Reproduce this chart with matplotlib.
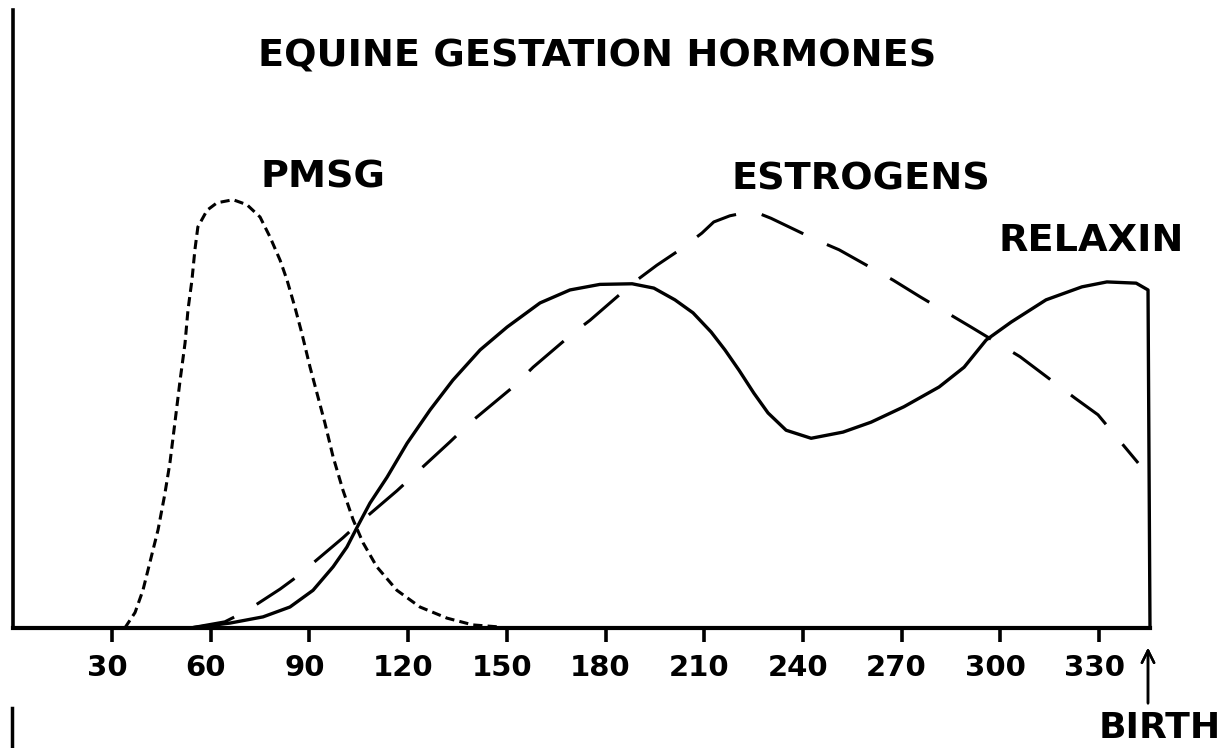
import matplotlib
matplotlib.use("Agg")
import matplotlib.pyplot as plt
import matplotlib.transforms as mtransforms
from matplotlib.lines import Line2D

# days of gestation / relative level (0-100 of the drawn axis)
pmsg_day = [33.9, 37.0, 39.4, 41.7, 44.0, 46.0, 47.6, 49.3, 50.7, 52.2, 53.1, 54.3, 55.2,
            56.1, 58.9, 61.9, 66.8, 71.0, 75.0, 78.0, 81.1, 83.2, 85.6, 87.7, 90.2, 92.3,
            94.7, 97.2, 100.2, 103.3, 106.3, 110.5, 116.6, 123.6, 131.8, 139.7, 147.0, 147.9]
pmsg_val = [0, 2.5, 6.1, 11.0, 15.9, 21.5, 26.7, 34.0, 40.1, 46.1, 51.5, 56.3, 61.2,
            64.9, 67.6, 68.8, 69.3, 68.5, 66.5, 63.3, 59.5, 56.3, 51.9, 47.7, 42.2, 38.0,
            33.2, 27.7, 22.3, 17.5, 13.8, 9.9, 6.1, 3.4, 1.6, 0.5, 0.2, 0]

estro_day = [53.7, 64.3, 71.0, 81.1, 86.2, 100.2, 104.5, 116.6, 132.7, 138.8, 151.9, 158.0,
             170.1, 175.3, 188.3, 195.6, 202.6, 209.3, 212.9, 217.8, 222.4, 227.0, 230.3,
             244.0, 251.0, 267.4, 275.6, 291.1, 306.0, 322.7, 329.7, 341.9]
estro_val = [0, 1.0, 2.8, 6.3, 8.3, 14.6, 16.7, 22.2, 30.1, 33.2, 39.0, 42.2,
             47.7, 49.8, 55.8, 58.7, 61.2, 63.9, 65.7, 66.7, 67.2, 67.0, 66.3,
             62.8, 61.2, 56.3, 53.6, 48.7, 43.9, 37.2, 34.5, 26.7]

relax_day = [53.7, 65.9, 75.9, 84.1, 91.1, 97.2, 101.4, 104.5, 108.4, 113.6, 119.7, 126.7,
             133.6, 141.9, 150.1, 160.1, 169.2, 178.3, 188.1, 194.7, 201.1, 206.6, 212.1,
             216.3, 220.6, 225.1, 229.4, 234.9, 242.5, 252.2, 260.7, 270.7, 281.4, 289.0,
             295.7, 303.3, 313.9, 324.8, 332.4, 341.3, 344.9, 345.5]
relax_val = [0, 0.8, 1.8, 3.4, 6.1, 9.9, 13.1, 16.3, 20.2, 24.4, 29.9, 35.3,
             40.1, 45.0, 48.7, 52.6, 54.7, 55.6, 55.7, 55.0, 53.1, 51.0, 47.9,
             45.0, 41.7, 38.0, 34.8, 32.0, 30.7, 31.7, 33.3, 35.8, 39.0, 42.2,
             46.6, 49.5, 53.1, 55.2, 56.0, 55.8, 54.7, 0]

ticks = [30, 60, 90, 120, 150, 180, 210, 240, 270, 300, 330]
birth_day = 345.5

W, H = 1228, 748
fig = plt.figure(figsize=(W / 100, H / 100), dpi=100)
ax = fig.add_axes([13.3 / W, (H - 628) / H, 350 * 3.29 / W, 618 / H])

ax.plot(pmsg_day, pmsg_val, color="black", lw=2.2, linestyle=(0, (3, 1.7)))
ax.plot(estro_day, estro_val, color="black", lw=2.2, linestyle=(0, (15, 8.5)))
ax.plot(relax_day, relax_val, color="black", lw=2.4, solid_joinstyle="round")

ax.set_xlim(0, 350)
ax.set_ylim(0, 100)
ax.spines["top"].set_visible(False)
ax.spines["right"].set_visible(False)
ax.spines["left"].set_linewidth(2.6)
ax.spines["bottom"].set_linewidth(3)
ax.spines["bottom"].set_bounds(0, birth_day)
ax.set_yticks([])
ax.set_xticks(ticks)
ax.set_xticklabels([str(t) for t in ticks], fontsize=21, fontweight="bold", family="DejaVu Sans")
ax.tick_params(axis="x", direction="out", length=10, width=2.6, pad=9)
shift = mtransforms.ScaledTranslation(-5 / 100, 0, fig.dpi_scale_trans)
for lab in ax.get_xticklabels():
    lab.set_transform(lab.get_transform() + shift)

def put(text, x, y, size=27.5):
    fig.text(x / W, 1 - y / H, text, fontsize=size, fontweight="bold",
             family="DejaVu Sans", ha="center", va="center")

put("EQUINE GESTATION HORMONES", 597, 57)
put("PMSG", 323, 177)
put("ESTROGENS", 861, 179)
put("RELAXIN", 1091, 241)
put("BIRTH", 1160, 728, size=26)

# arrow pointing at birth
fig.add_artist(plt.annotate("", xy=(1148 / W, 1 - 645 / H), xytext=(1148 / W, 1 - 706 / H),
                            xycoords="figure fraction", textcoords="figure fraction",
                            arrowprops=dict(arrowstyle="->", lw=1.8, color="black",
                                            mutation_scale=22)))

# edge of the next figure on the page
fig.add_artist(Line2D([12 / W, 12 / W], [1 - 708 / H, 0], transform=fig.transFigure,
                      color="black", lw=2.5))

fig.savefig("out.png", dpi=100, facecolor="white")
